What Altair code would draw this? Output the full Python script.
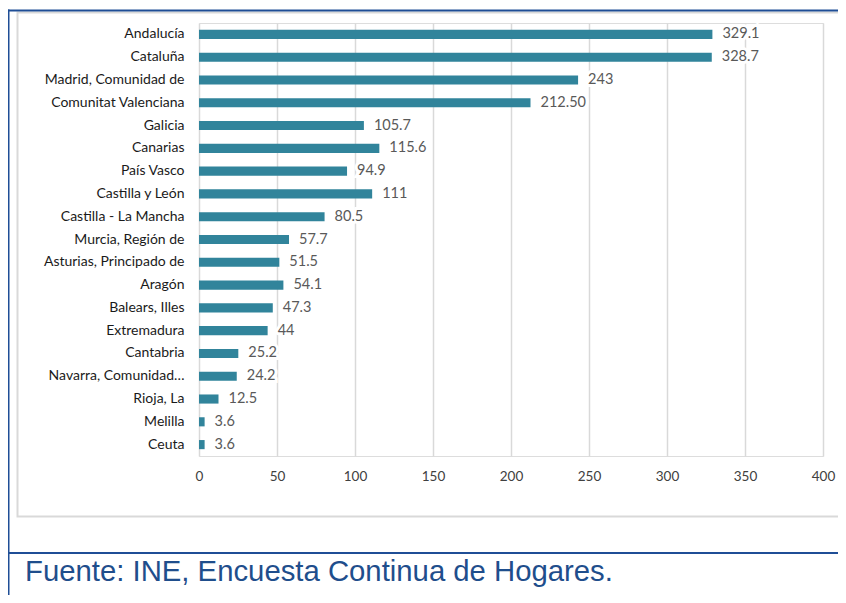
import altair as alt
import pandas as pd

regiones = [
    "Andalucía", "Cataluña", "Madrid, Comunidad de", "Comunitat Valenciana",
    "Galicia", "Canarias", "País Vasco", "Castilla y León",
    "Castilla - La Mancha", "Murcia, Región de", "Asturias, Principado de",
    "Aragón", "Balears, Illes", "Extremadura", "Cantabria",
    "Navarra, Comunidad…", "Rioja, La", "Melilla", "Ceuta",
]
valores = [329.1, 328.7, 243, 212.5, 105.7, 115.6, 94.9, 111, 80.5, 57.7,
           51.5, 54.1, 47.3, 44, 25.2, 24.2, 12.5, 3.6, 3.6]
etiquetas = ["329.1", "328.7", "243", "212.50", "105.7", "115.6", "94.9",
             "111", "80.5", "57.7", "51.5", "54.1", "47.3", "44", "25.2",
             "24.2", "12.5", "3.6", "3.6"]
fuente = "Fuente: INE, Encuesta Continua de Hogares."

df = pd.DataFrame({"region": regiones, "valor": valores, "etiqueta": etiquetas})

BAR = "#31849B"
BLUE = "#1F4E96"
GRID = "#D9D9D9"
FONT = "Lato"

y_enc = alt.Y(
    "region:N", sort=regiones, title=None,
    scale=alt.Scale(paddingInner=0.6, paddingOuter=0.3),
    axis=alt.Axis(domain=False, ticks=False, labelPadding=15, labelLimit=300,
                  labelFont=FONT, labelFontSize=14, labelColor="#1A1A1A"),
)
x_enc = alt.X(
    "valor:Q", title=None,
    scale=alt.Scale(domain=[0, 400], nice=False),
    axis=alt.Axis(values=[0, 50, 100, 150, 200, 250, 300, 350, 400],
                  domain=False, ticks=False, grid=True, gridColor=GRID,
                  gridWidth=1.5, labelPadding=13, labelFont=FONT,
                  labelFlush=False, labelFontSize=13.5, labelColor="#404040"),
)

bars = alt.Chart(df).mark_bar(color=BAR).encode(x=x_enc, y=y_enc)

halo = alt.Chart(df).mark_text(
    align="left", baseline="middle", dx=10, font=FONT, fontSize=14.5,
    stroke="white", strokeWidth=6, color="white",
).encode(x="valor:Q", y=alt.Y("region:N", sort=regiones), text="etiqueta:N")

labels = alt.Chart(df).mark_text(
    align="left", baseline="middle", dx=10, font=FONT, fontSize=14.5,
    color="#595959",
).encode(x="valor:Q", y=alt.Y("region:N", sort=regiones), text="etiqueta:N")

frame_df = pd.DataFrame({"k": [0]})
base = alt.Chart(frame_df)

gray_box = base.mark_rect(fill=None, stroke="#D9D9D9", strokeWidth=2).encode(
    x=alt.value(-181.5), x2=alt.value(680), y=alt.value(-10.5), y2=alt.value(493.5)
)
top_line = base.mark_rule(color=BLUE, strokeWidth=2).encode(
    x=alt.value(-191), x2=alt.value(680), y=alt.value(-12.5)
)
left_line = base.mark_rule(color=BLUE, strokeWidth=2).encode(
    x=alt.value(-190.5), y=alt.value(-13.5), y2=alt.value(600)
)
sep_line = base.mark_rule(color=BLUE, strokeWidth=2).encode(
    x=alt.value(-191), x2=alt.value(680), y=alt.value(530)
)
source = base.mark_text(
    align="left", baseline="alphabetic", font="Liberation Sans", fontSize=29.3,
    color="#1F4E8C",
).encode(x=alt.value(-174), y=alt.value(558), text=alt.value(fuente))

chart = alt.layer(
    gray_box, top_line, left_line, sep_line, bars, halo, labels, source
).properties(
    width=624, height=433,
    autosize=alt.AutoSizeParams(type="none"),
    padding={"left": 191, "top": 15, "right": 15, "bottom": 139},
).configure_view(stroke=None).configure(background="white")

chart.save("out.html", embed_options={"renderer": "svg", "actions": False})
